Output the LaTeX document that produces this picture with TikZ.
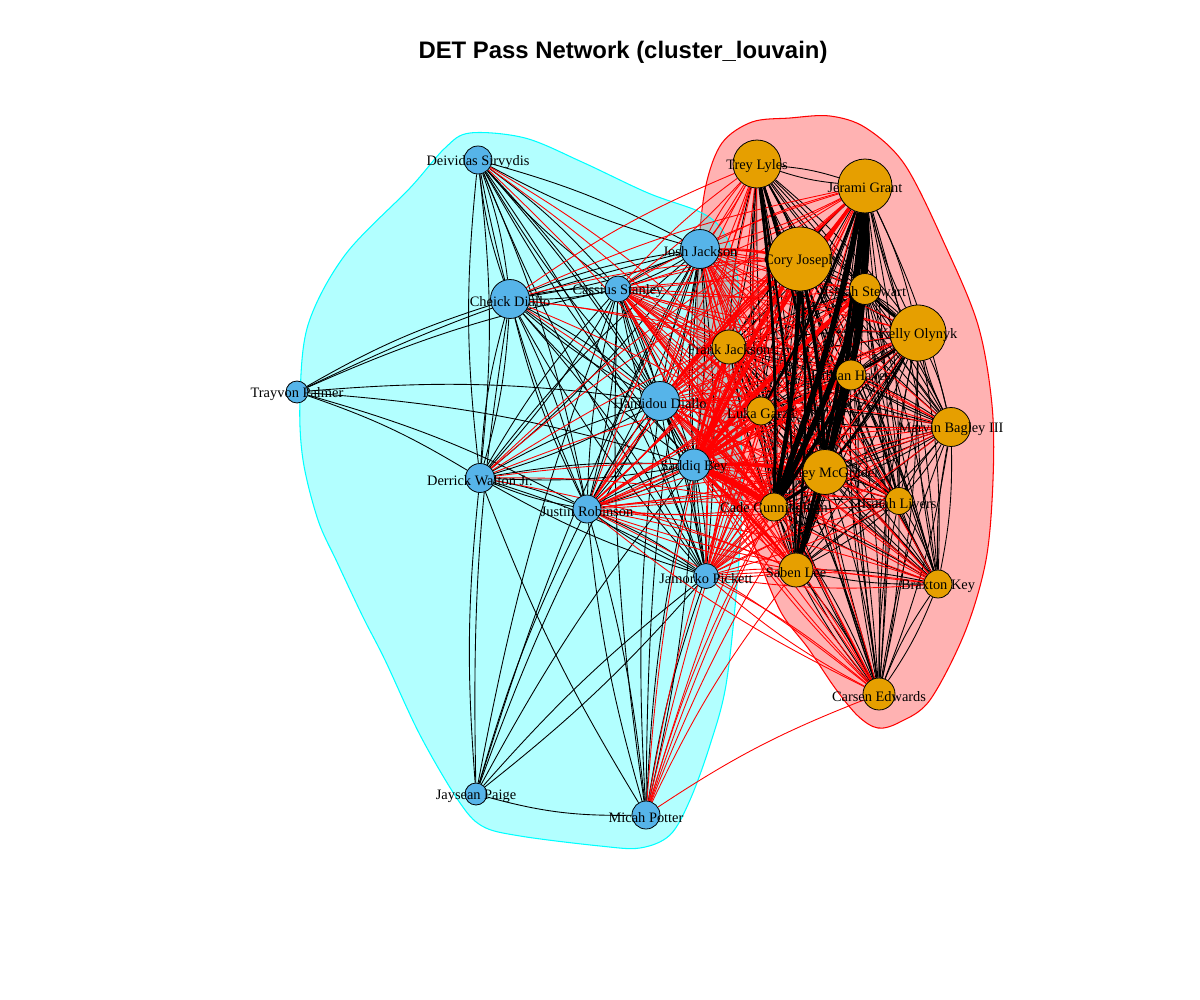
\documentclass[tikz,border=0pt]{standalone}
\usepackage{fontspec}
\setmainfont{Liberation Serif}
\newfontfamily\titlefont{Liberation Sans}
\pgfdeclarelayer{bg}
\pgfdeclarelayer{hull}
\pgfdeclarelayer{edges}
\pgfsetlayers{bg,hull,edges,main}
\definecolor{nodeblue}{HTML}{56B4E9}
\definecolor{nodeorange}{HTML}{E69F00}
\definecolor{hcyan}{RGB}{0,255,255}
\definecolor{hred}{RGB}{255,0,0}
\tikzset{
  bnode/.style={circle, draw=black, line width=0.45pt, fill=nodeblue, inner sep=0pt},
  onode/.style={circle, draw=black, line width=0.45pt, fill=nodeorange, inner sep=0pt},
  lbl/.style={font=\fontsize{8.2}{9}\selectfont, inner sep=0pt, text=black, yshift=-0.045cm},
  eb/.style={draw=black, line width=0.5pt},
  er/.style={draw=hred, line width=0.5pt},
  hullred/.style={fill=hred, fill opacity=0.3, draw=hred, draw opacity=1, line width=0.6pt},
  hullcyan/.style={fill=hcyan, fill opacity=0.3, draw=hcyan, draw opacity=1, line width=0.6pt},
}
\newcommand\BN[4]{\node[bnode, minimum size=#4*0.04cm] (#1) at (#2,#3) {};}
\newcommand\ON[4]{\node[onode, minimum size=#4*0.04cm] (#1) at (#2,#3) {};}
\begin{document}
\begin{tikzpicture}[x=0.02cm, y=-0.02cm]
\useasboundingbox (0,0) rectangle (1200,1000);
\begin{pgfonlayer}{bg}
\fill[white] (0,0) rectangle (1200,1000);
\end{pgfonlayer}
% title
\node[font=\titlefont\bfseries\fontsize{13.6}{16}\selectfont] (title) at (623,52) {DET Pass Network (cluster\_louvain)};
% hulls
\begin{pgfonlayer}{hull}
\path[hullred] plot[smooth cycle, tension=0.55] coordinates {(790,118) (830,116) (866,128) (905,165) (945,245) (978,325) (992,405) (993,480) (986,560) (965,632) (930,700) (900,722) (878,728) (858,716) (835,688) (808,648) (782,614) (762,568) (745,520) (718,468) (700,420) (697,330) (699,245) (706,185) (722,143) (752,122)};
\path[hullcyan] plot[smooth cycle, tension=0.55] coordinates {(470,133) (525,138) (582,162) (648,193) (700,212) (722,230) (736,265) (740,330) (741,420) (742,500) (737,585) (726,685) (710,745) (690,800) (670,835) (640,848) (600,846) (520,836) (482,826) (458,800) (420,735) (385,660) (363,617) (337,562) (318,520) (303,460) (300,400) (308,325) (345,255) (410,188) (445,148)};
\end{pgfonlayer}
% blue nodes
\BN{ds}{478}{160}{14}
\BN{cd}{510}{299}{19.5}
\BN{cs}{618}{289}{13}
\BN{jj}{700}{249}{19.5}
\BN{tp}{297}{392}{11}
\BN{hd}{660}{401}{19.5}
\BN{sb}{694}{465}{16}
\BN{dw}{480}{478}{14.5}
\BN{jr}{587}{509}{14}
\BN{jp}{706}{576}{12.5}
\BN{jy}{476}{794}{11}
\BN{mp}{646}{815}{14}
% orange nodes
\ON{tl}{757}{164}{24}
\ON{jg}{865}{186}{27}
\ON{cj}{800}{259}{32}
\ON{is}{865}{289}{15.5}
\ON{ko}{918}{333}{28}
\ON{fj}{729}{347}{17}
\ON{kh}{851}{375}{15}
\ON{lg}{761}{411}{14}
\ON{mb}{951}{427}{19.5}
\ON{rm}{825}{472}{22.5}
\ON{cc}{774}{507}{14}
\ON{il}{899}{501}{13.5}
\ON{sl}{796}{570}{17}
\ON{bk}{938}{584}{14}
\ON{ce}{879}{694}{16}
% edges
\def\olist{tl,jg,cj,is,ko,fj,kh,lg,mb,rm,cc,il,sl,bk,ce}
\def\blist{ds,cd,cs,jj,hd,sb,dw,jr,jp}
\begin{pgfonlayer}{edges}
% within orange cluster
\foreach \a [count=\i] in \olist {
  \foreach \b [count=\j] in \olist {
    \ifnum\j>\i
      \draw[eb] (\a) to[bend left=6] (\b);
      \draw[eb] (\b) to[bend left=6] (\a);
    \fi
  }
}
% within blue cluster
\foreach \a [count=\i] in \blist {
  \foreach \b [count=\j] in \blist {
    \ifnum\j>\i
      \draw[eb] (\a) to[bend left=6] (\b);
      \draw[eb] (\b) to[bend left=6] (\a);
    \fi
  }
}
\foreach \b in {cd,cs,hd,sb,dw,jr,jj}{\draw[eb] (tp) to[bend left=6] (\b);}
\foreach \b in {cd,cs,hd,sb,dw,jr,jj,jp}{\draw[eb] (jy) to[bend left=5] (\b);}
\draw[eb] (jy) to[bend right=5] (jp);
\draw[eb] (jy) to[bend right=8] (mp);
\foreach \b in {cs,hd,sb,jr,jp,dw,jj}{\draw[eb] (mp) to[bend left=5] (\b);}
\draw[eb] (mp) to[bend right=5] (sb);
\draw[eb] (mp) to[bend right=5] (jr);
% between clusters
\foreach \a in {jj,cs,hd,sb,jr,jp} {
  \foreach \b in \olist {
    \draw[er] (\a) to[bend left=6] (\b);
    \draw[er] (\b) to[bend left=6] (\a);
  }
}
\foreach \b in {cj,jg,cc,kh,fj,rm,tl}{\draw[er] (cd) to[bend left=6] (\b);}
\foreach \b in {cj,jg,kh,cc,rm,sl,is}{\draw[er] (dw) to[bend left=6] (\b);}
\foreach \b in {cc,sl,rm,kh,is,jg,lg,fj,ce}{\draw[er] (mp) to[bend left=6] (\b);}
\foreach \b in {fj,lg,cc}{\draw[er] (ds) to[bend left=6] (\b);}
% heavy passes
\foreach \a/\b/\w in {sb/cc/3.6, sb/cj/2.0, sb/kh/2.0, sb/is/2.2, sb/jg/2.0, sb/rm/1.6, sb/lg/1.4, sb/fj/1.4, sb/sl/1.4, hd/cc/1.3, hd/cj/1.2, hd/jg/1.2, jj/cj/1.0, cs/cc/1.0}
  {\draw[hred, line width=\w pt] (\a) to[bend left=4] (\b);}
\foreach \a/\b/\w in {jg/cc/3.2, cj/cc/2.4, is/cc/3.2, jg/rm/2.4, jg/kh/2.4, is/rm/2.0, jg/sl/2.0, tl/cc/1.6, tl/rm/1.3, cj/rm/2.0, kh/cc/2.0, is/sl/2.0, cj/sl/1.4, jg/is/1.8, ko/is/1.2, ko/kh/1.2, rm/cc/1.8, is/kh/1.6, jg/lg/1.4, tl/sl/1.2, ko/rm/1.2}
  {\draw[black, line width=\w pt] (\a) to[bend left=4] (\b);}
\end{pgfonlayer}
% labels
\node[lbl] (ds-l) at (ds) {Deividas Sirvydis};
\node[lbl] (cd-l) at (cd) {Cheick Diallo};
\node[lbl] (cs-l) at (cs) {Cassius Stanley};
\node[lbl] (jj-l) at (jj) {Josh Jackson};
\node[lbl] (tp-l) at (tp) {Trayvon Palmer};
\node[lbl] (hd-l) at (hd) {Hamidou Diallo};
\node[lbl] (sb-l) at (sb) {Saddiq Bey};
\node[lbl] (dw-l) at (dw) {Derrick Walton Jr.};
\node[lbl] (jr-l) at (jr) {Justin Robinson};
\node[lbl] (jp-l) at (jp) {Jamorko Pickett};
\node[lbl] (jy-l) at (jy) {Jaysean Paige};
\node[lbl] (mp-l) at (mp) {Micah Potter};
\node[lbl] (tl-l) at (tl) {Trey Lyles};
\node[lbl] (jg-l) at (jg) {Jerami Grant};
\node[lbl] (cj-l) at (cj) {Cory Joseph};
\node[lbl] (is-l) at (is) {Isaiah Stewart};
\node[lbl] (ko-l) at (ko) {Kelly Olynyk};
\node[lbl] (fj-l) at (fj) {Frank Jackson};
\node[lbl] (kh-l) at (kh) {Killian Hayes};
\node[lbl] (lg-l) at (lg) {Luka Garza};
\node[lbl] (mb-l) at (mb) {Marvin Bagley III};
\node[lbl] (rm-l) at (rm) {Rodney McGruder};
\node[lbl] (cc-l) at (cc) {Cade Cunningham};
\node[lbl] (il-l) at (il) {Isaiah Livers};
\node[lbl] (sl-l) at (sl) {Saben Lee};
\node[lbl] (bk-l) at (bk) {Braxton Key};
\node[lbl] (ce-l) at (ce) {Carsen Edwards};
\end{tikzpicture}
\end{document}
